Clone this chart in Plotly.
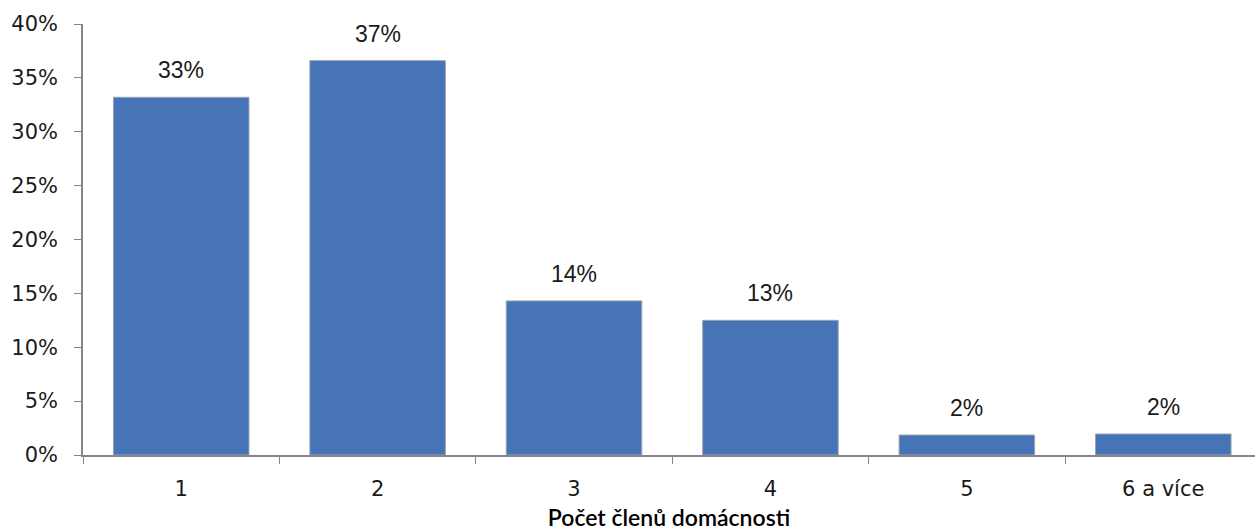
import plotly.graph_objects as go

categories = ["1", "2", "3", "4", "5", "6 a více"]
values = [33.2, 36.6, 14.3, 12.5, 1.85, 1.95]
labels = ["33%", "37%", "14%", "13%", "2%", "2%"]
y_ticks = [0, 5, 10, 15, 20, 25, 30, 35, 40]
y_tick_labels = [f"{v}%" for v in y_ticks]

fig = go.Figure()
fig.add_trace(go.Bar(
    x=categories, y=values,
    marker=dict(color="#4674B6", line=dict(color="#9AA3B0", width=1)),
    width=0.69,
    hoverinfo="skip",
))

for i, (v, t) in enumerate(zip(values, labels)):
    fig.add_annotation(x=i, y=v, xref="x", yref="y", text=t, showarrow=False,
                       yanchor="bottom", yshift=12,
                       font=dict(family="Liberation Sans, Arial", size=23, color="#1a1a1a"))

fig.update_layout(
    width=1255, height=531,
    margin=dict(l=83, r=0, t=24, b=76),
    paper_bgcolor="white", plot_bgcolor="white",
    showlegend=False, bargap=0.31,
    xaxis=dict(
        type="category", tickson="boundaries", ticks="outside", ticklen=7,
        range=[-0.5, 5.467],
        tickcolor="#868686", showline=True, linecolor="#868686", linewidth=1.5,
        showgrid=False, ticklabelstandoff=14,
        tickfont=dict(family="DejaVu Sans", size=21, color="#1a1a1a"),
        title=dict(text="Počet členů domácnosti", standoff=10,
                   font=dict(family="Lato, Noto Sans", size=23, color="#000000", weight=600)),
    ),
    yaxis=dict(
        range=[0, 40], tickvals=y_ticks, ticktext=y_tick_labels,
        ticks="outside", ticklen=7, tickcolor="#868686", showline=True,
        linecolor="#868686", linewidth=1.5, showgrid=False, zeroline=False,
        ticklabelstandoff=12,
        tickfont=dict(family="DejaVu Sans", size=21, color="#1a1a1a"),
    ),
)

fig.write_html("out.html")
